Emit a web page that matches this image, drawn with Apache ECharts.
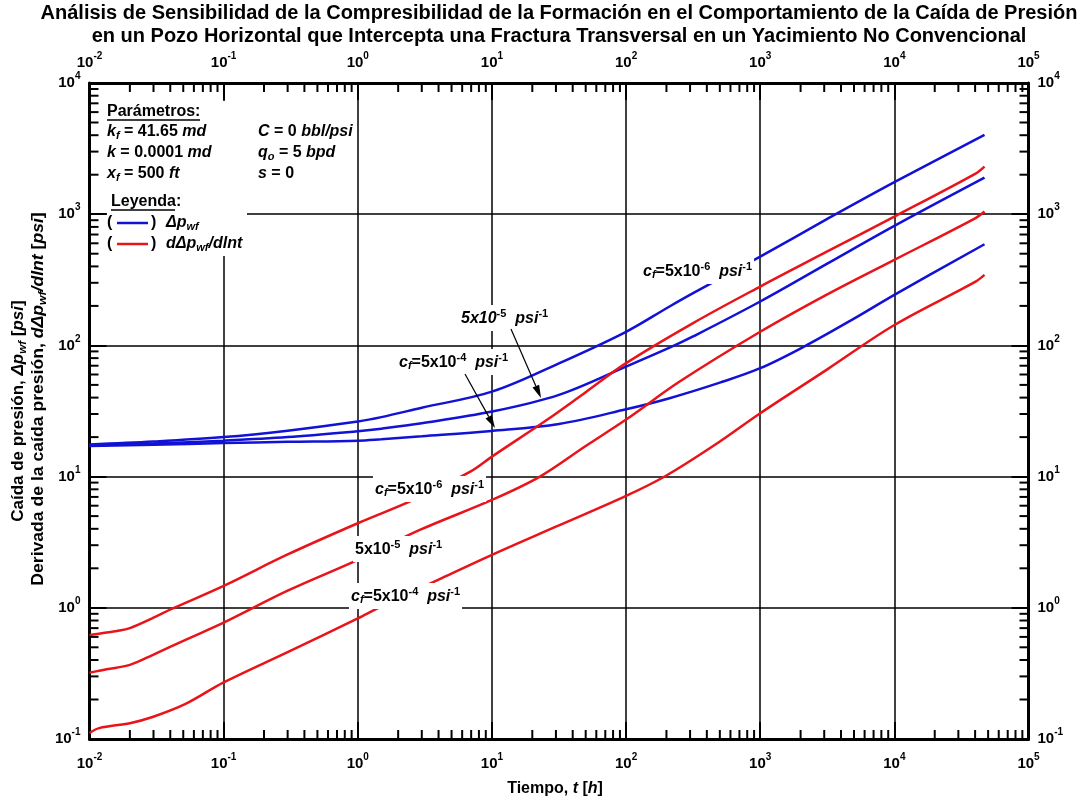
<!DOCTYPE html>
<html><head><meta charset="utf-8">
<script src="https://cdn.jsdelivr.net/npm/echarts@6/dist/echarts.min.js"></script>
<style>html,body{margin:0;padding:0;background:#fff}#c{width:1083px;height:805px}</style>
</head><body><div id="c"></div>
<script>
// ---- tick labels (decade exponents) ----
const xExp = [-2, -1, 0, 1, 2, 3, 4, 5];
const yExp = [-1, 0, 1, 2, 3, 4];
const minorMult = [2, 3, 4, 5, 6, 7, 8, 9];

// ---- pressure drop (blue) ----
const dpTime_cf5e6 = [0.01, 0.03, 0.1, 0.3, 1, 1.5, 3, 10, 31.6, 100, 211, 316, 1000, 3162, 10000, 47000];
const dp_cf5e6     = [17.6, 18.5, 20.0, 22.4, 26.3, 28.4, 33.5, 44.4, 73, 127, 198, 250, 475, 920, 1754, 4020];
const dpTime_cf5e5 = [0.01, 0.03, 0.1, 0.3, 1, 1.5, 3, 10, 31.6, 100, 211, 316, 1000, 3162, 10000, 47000];
const dp_cf5e5     = [17.3, 17.9, 18.8, 20.0, 22.2, 23.2, 25.5, 31.3, 42, 68.9, 96, 117, 216, 420, 815, 1900];
const dpTime_cf5e4 = [0.01, 0.03, 0.1, 0.3, 1, 1.5, 3, 10, 31.6, 100, 211, 500, 1000, 2124, 5000, 10000, 47000];
const dp_cf5e4     = [17.1, 17.5, 18.0, 18.4, 18.8, 19.3, 20.3, 22.3, 25.2, 32.6, 39.6, 52, 67, 98, 160, 243, 590];

// ---- pressure derivative (red) ----
const dvTime_cf5e6 = [0.01, 0.013, 0.016, 0.02, 0.03, 0.041, 0.1, 0.3, 1, 2.6, 6.9, 10, 25.6, 50, 100, 316, 1000, 3162, 10000, 40000, 47000];
const dv_cf5e6     = [0.62, 0.645, 0.665, 0.70, 0.84, 0.98, 1.47, 2.55, 4.41, 6.64, 10.9, 14.2, 27, 44, 73.2, 148, 281, 520, 959, 2030, 2306];
const dvTime_cf5e5 = [0.01, 0.0134, 0.02, 0.03, 0.052, 0.1, 0.3, 1, 2.9, 10, 22.8, 50, 100, 251, 1000, 3162, 10000, 40000, 47000];
const dv_cf5e5     = [0.32, 0.34, 0.367, 0.44, 0.57, 0.77, 1.35, 2.32, 3.92, 6.64, 10, 17.1, 27.2, 53, 127, 245, 449, 930, 1047];
const dvTime_cf5e4 = [0.01, 0.0118, 0.02, 0.0295, 0.052, 0.1, 0.3, 1, 1.43, 4.23, 10, 30, 100, 200, 500, 1000, 3162, 10000, 40000, 47000];
const dv_cf5e4     = [0.111, 0.121, 0.132, 0.147, 0.185, 0.27, 0.46, 0.83, 1.0, 1.68, 2.53, 4.15, 7.13, 10.2, 18.5, 30.4, 65.7, 143, 305, 345];

const FONT = "'Liberation Sans', Arial, Helvetica, sans-serif";
const BLUE = '#1212d6';
const RED = '#e8141a';

const chart = echarts.init(document.getElementById('c'), null, {renderer: 'canvas'});

function expLabel(v) { return '{b|10}{e|' + Math.round(Math.log10(v)) + '}'; }
const axisRich = {
  b: {fontSize: 15, fontWeight: 'bold', color: '#000', fontFamily: FONT},
  e: {fontSize: 10, fontWeight: 'bold', color: '#000', fontFamily: FONT, padding: [0, 0, 13, 0]}
};

function logAxis(exps, pos, grid, margin) {
  return {
    type: 'log', logBase: 10, position: pos,
    min: Math.pow(10, exps[0]), max: Math.pow(10, exps[exps.length - 1]),
    splitNumber: exps.length - 1,
    axisLine: {show: true, onZero: false, lineStyle: {color: '#000', width: 3}},
    axisTick: {show: true, inside: true, length: 17, lineStyle: {color: '#000', width: 2}},
    axisLabel: {show: true, margin: margin, formatter: expLabel, rich: axisRich},
    splitLine: {show: grid, lineStyle: {color: '#000', width: 1.5}},
    minorTick: {show: false}, minorSplitLine: {show: false}
  };
}

function line(name, t, v, color) {
  return {
    name: name, type: 'line', xAxisIndex: 0, yAxisIndex: 0,
    data: t.map((x, i) => [x, v[i]]),
    showSymbol: false, smooth: 0.35, silent: true, z: 3,
    lineStyle: {color: color, width: 2.5}, itemStyle: {color: color}
  };
}

const minorData = [];
for (let e = xExp[0]; e < xExp[xExp.length - 1]; e++) minorMult.forEach(m => minorData.push([m * Math.pow(10, e), 1, 0]));
for (let e = yExp[0]; e < yExp[yExp.length - 1]; e++) minorMult.forEach(m => minorData.push([1, m * Math.pow(10, e), 1]));

const minorSeries = {
  type: 'custom', xAxisIndex: 0, yAxisIndex: 0, silent: true, z: 4,
  encode: {x: 0, y: 1},
  data: minorData,
  renderItem: function (params, api) {
    const cs = params.coordSys;
    const L = 9;
    const st = {stroke: '#000', lineWidth: 2};
    if (api.value(2) === 0) {
      const px = api.coord([api.value(0), 1])[0];
      return {type: 'group', children: [
        {type: 'line', shape: {x1: px, y1: cs.y + cs.height, x2: px, y2: cs.y + cs.height - L}, style: st},
        {type: 'line', shape: {x1: px, y1: cs.y, x2: px, y2: cs.y + L}, style: st}
      ]};
    } else {
      const py = api.coord([1, api.value(1)])[1];
      return {type: 'group', children: [
        {type: 'line', shape: {x1: cs.x, y1: py, x2: cs.x + L, y2: py}, style: st},
        {type: 'line', shape: {x1: cs.x + cs.width, y1: py, x2: cs.x + cs.width - L, y2: py}, style: st}
      ]};
    }
  }
};

// ---- rich text helpers for annotations ----
function richSet(fs) {
  return {
    n: {fontSize: fs, fontWeight: 'bold', fontFamily: FONT},
    i: {fontSize: fs, fontWeight: 'bold', fontStyle: 'italic', fontFamily: FONT},
    sub: {fontSize: Math.round(fs * 0.68), fontWeight: 'bold', fontStyle: 'italic', fontFamily: FONT, padding: [Math.round(fs * 0.45), 0, 0, 0]},
    sup: {fontSize: Math.round(fs * 0.66), fontWeight: 'bold', fontFamily: FONT, padding: [0, 0, Math.round(fs * 0.62), 0]}
  };
}
function txt(x, y, text, fs, extra) {
  const style = Object.assign({
    text: text, rich: richSet(fs), fill: '#000',
    font: 'bold ' + fs + 'px ' + FONT, align: 'left', verticalAlign: 'middle'
  }, extra || {});
  return {type: 'text', x: x, y: y, z: 60, silent: true, style: style};
}
function boxTxt(x, y, text) {
  return txt(x, y, text, 16, {backgroundColor: '#fff', padding: [3, 2, 2, 2]});
}
function arrow(x1, y1, x2, y2) {
  const dx = x2 - x1, dy = y2 - y1, len = Math.sqrt(dx * dx + dy * dy);
  const ux = dx / len, uy = dy / len, hl = 13, hw = 3.6;
  const bx = x2 - ux * hl, by = y2 - uy * hl;
  return [
    {type: 'line', z: 61, silent: true, shape: {x1: x1, y1: y1, x2: bx, y2: by}, style: {stroke: '#000', lineWidth: 1.2}},
    {type: 'polygon', z: 61, silent: true, shape: {points: [[x2, y2], [bx - uy * hw, by + ux * hw], [bx + uy * hw, by - ux * hw]]}, style: {fill: '#000'}}
  ];
}

const graphics = [
  // title
  txt(559, 13, 'Análisis de Sensibilidad de la Compresibilidad de la Formación en el Comportamiento de la Caída de Presión', 20, {align: 'center'}),
  txt(559, 36, 'en un Pozo Horizontal que Intercepta una Fractura Transversal en un Yacimiento No Convencional', 20, {align: 'center'}),
  // axis titles
  txt(555, 789, '{n|Tiempo, }{i|t}{n| [}{i|h}{n|]}', 16, {align: 'center'}),
  Object.assign(txt(19, 411, '{n|Caída de presión, }{i|Δp}{sub|wf}{n| [}{i|psi}{n|]}', 16, {align: 'center'}), {rotation: Math.PI / 2, scaleX: 1.06}),
  Object.assign(txt(39, 399, '{n|Derivada de la caída presión, }{i|dΔp}{sub|wf}{i|/dlnt}{n| [}{i|psi}{n|]}', 16, {align: 'center'}), {rotation: Math.PI / 2, scaleX: 1.1}),
  // parameters box background (hides grid lines)
  {type: 'rect', z: 1, silent: true, shape: {x: 107, y: 101, width: 140, height: 155}, style: {fill: '#fff'}},
  txt(107, 112, '{n|Parámetros:}', 16),
  {type: 'line', z: 60, silent: true, shape: {x1: 107, y1: 120, x2: 200, y2: 120}, style: {stroke: '#000', lineWidth: 1.4}},
  txt(107, 132, '{i|k}{sub|f}{n| = 41.65 }{i|md}', 16),
  txt(107, 153, '{i|k}{n| = 0.0001 }{i|md}', 16),
  txt(107, 174, '{i|x}{sub|f}{n| = 500 }{i|ft}', 16),
  txt(258, 132, '{i|C}{n| = 0 }{i|bbl/psi}', 16),
  txt(258, 153, '{i|q}{sub|o}{n| = 5 }{i|bpd}', 16),
  txt(258, 174, '{i|s}{n| = 0}', 16),
  txt(111, 202, '{n|Leyenda:}', 16),
  {type: 'line', z: 60, silent: true, shape: {x1: 111, y1: 210, x2: 175, y2: 210}, style: {stroke: '#000', lineWidth: 1.4}},
  txt(107, 223, '{n|(}', 16),
  {type: 'line', z: 60, silent: true, shape: {x1: 117, y1: 223, x2: 148, y2: 223}, style: {stroke: BLUE, lineWidth: 2.5}},
  txt(151, 223, '{n|)}', 16),
  txt(166, 223, '{i|Δp}{sub|wf}', 16),
  txt(107, 244, '{n|(}', 16),
  {type: 'line', z: 60, silent: true, shape: {x1: 117, y1: 244, x2: 148, y2: 244}, style: {stroke: RED, lineWidth: 2.5}},
  txt(151, 244, '{n|)}', 16),
  txt(166, 244, '{i|dΔp}{sub|wf}{i|/dlnt}', 16),
  // curve labels - blue
  boxTxt(641, 271, '{i|c}{sub|f}{n|=5x10}{sup|-6}{n|  }{i|psi}{sup|-1}'),
  boxTxt(459, 318, '{i|5x10}{sup|-5}{n|  }{i|psi}{sup|-1}'),
  boxTxt(397, 362, '{i|c}{sub|f}{n|=5x10}{sup|-4}{n|  }{i|psi}{sup|-1}'),
  // curve labels - red
  boxTxt(373, 489, '{i|c}{sub|f}{n|=5x10}{sup|-6}{n|  }{i|psi}{sup|-1}'),
  boxTxt(353, 549, '{n|5x10}{sup|-5}{n|  }{i|psi}{sup|-1}'),
  boxTxt(349, 596, '{i|c}{sub|f}{n|=5x10}{sup|-4}{n|  }{i|psi}{sup|-1}')
].concat(arrow(511, 329, 541, 398), arrow(465, 374, 495, 428));

chart.setOption({
  animation: false,
  backgroundColor: '#fff',
  textStyle: {fontFamily: FONT},
  grid: {left: 89.5, right: 54.5, top: 83, bottom: 66, containLabel: false},
  xAxis: [logAxis(xExp, 'bottom', true, 13), logAxis(xExp, 'top', false, 9)],
  yAxis: [logAxis(yExp, 'left', true, 9), logAxis(yExp, 'right', false, 9)],
  series: [
    line('Δpwf cf=5e-6', dpTime_cf5e6, dp_cf5e6, BLUE),
    line('Δpwf cf=5e-5', dpTime_cf5e5, dp_cf5e5, BLUE),
    line('Δpwf cf=5e-4', dpTime_cf5e4, dp_cf5e4, BLUE),
    line('dΔpwf/dlnt cf=5e-6', dvTime_cf5e6, dv_cf5e6, RED),
    line('dΔpwf/dlnt cf=5e-5', dvTime_cf5e5, dv_cf5e5, RED),
    line('dΔpwf/dlnt cf=5e-4', dvTime_cf5e4, dv_cf5e4, RED),
    minorSeries
  ],
  graphic: {elements: graphics}
});
</script>
</body></html>
